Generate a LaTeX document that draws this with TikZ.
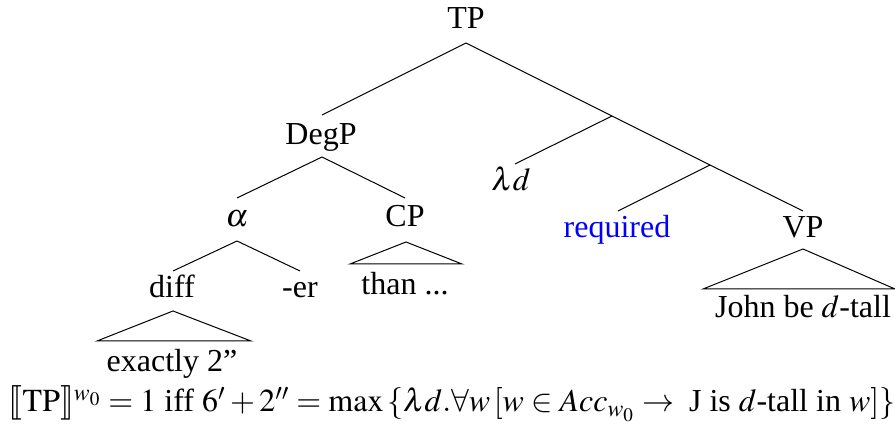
\documentclass[tikz,border=0pt]{standalone}
\usepackage{amsmath}
\usepackage{mathptmx}
\usepackage{stmaryrd}
\usepackage[no-math]{fontspec}
\setmainfont{Liberation Serif}
\begin{document}
\begin{tikzpicture}[x=0.5pt,y=-0.5pt,
  lbl/.style={anchor=base,inner sep=0pt,font=\fontsize{16}{19}\selectfont},
  edge/.style={draw=black,line width=0.5pt},
  tri/.style={draw=black,line width=0.5pt}]
\useasboundingbox (0,0) rectangle (895,431);
% labels
\node[lbl] (tp) at (466,29) {TP};
\node[lbl] (degp) at (321,145) {DegP};
\node[lbl] (alpha) at (237,227) {$\alpha$};
\node[lbl] (cp) at (405,227) {CP};
\node[lbl] (diff) at (172,298) {diff};
\node[lbl] (er) at (300,298) {-er};
\node[lbl] (than) at (405,295) {than ...};
\node[lbl] (exactly) at (172,372) {exactly 2''};
\node[lbl] (lam) at (511,191) {$\lambda d$};
\node[lbl,text=blue] (req) at (617,238) {required};
\node[lbl] (vp) at (803,238) {VP};
\node[lbl] (john) at (803,318) {John be $d$-tall};
% junction coordinates
\coordinate (tpA) at (466,43);
\coordinate (degpT) at (322,115);
\coordinate (j1) at (612,116);
\coordinate (lamT) at (515,164);
\coordinate (j2) at (710,165);
\coordinate (reqT) at (618,211);
\coordinate (vpT) at (803,211);
\coordinate (degpA) at (322,157);
\coordinate (alphaT) at (237,198);
\coordinate (cpT) at (405,198);
\coordinate (alphaA) at (237,241);
\coordinate (diffT) at (173,271);
\coordinate (erT) at (300,271);
\coordinate (diffA) at (173,311);
\coordinate (diffL) at (97,341);
\coordinate (diffR) at (251,341);
\coordinate (cpA) at (406,242);
\coordinate (cpL) at (350,264);
\coordinate (cpR) at (462,264);
\coordinate (vpA) at (803,249);
\coordinate (vpL) at (703,289);
\coordinate (vpR) at (895,289);
% edges
\draw[edge] (tpA) -- (degpT);
\draw[edge] (tpA) -- (j1) -- (j2) -- (vpT);
\draw[edge] (j1) -- (lamT);
\draw[edge] (j2) -- (reqT);
\draw[edge] (degpA) -- (alphaT);
\draw[edge] (degpA) -- (cpT);
\draw[edge] (alphaA) -- (diffT);
\draw[edge] (alphaA) -- (erT);
% triangles
\draw[tri] (diffA) -- (diffL) -- (diffR) -- cycle;
\draw[tri] (cpA) -- (cpL) -- (cpR) -- cycle;
\draw[tri] (vpA) -- (vpL) -- (vpR) -- cycle;
% formula
\node[lbl] (formula) at (452,412) {$\llbracket\mathrm{TP}\rrbracket^{w_0} = 1 \text{ iff } 6' + 2'' = \max\,\{\lambda d.\forall w\,[w \in Acc_{w_0} \to\ \text{J is } d\text{-tall in } w]\}$};
\end{tikzpicture}
\end{document}
